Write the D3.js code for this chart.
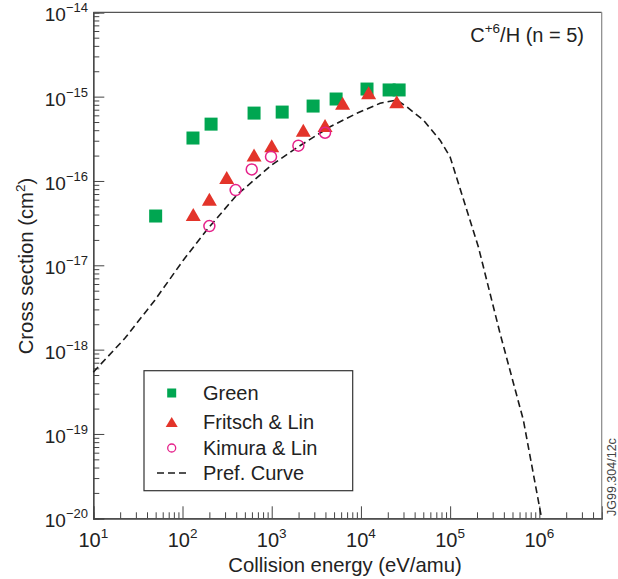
<!DOCTYPE html>
<html><head><meta charset="utf-8">
<script src="https://cdn.jsdelivr.net/npm/d3@7"></script>
<style>
html,body{margin:0;padding:0;background:#fff;}
svg{display:block;font-family:"Liberation Sans",Arial,Helvetica,sans-serif;}
</style></head>
<body><svg id="c" width="618" height="579"></svg>
<script>
// ---- data ----
const greenE = [50, 131, 209, 634, 1310, 2910, 5270, 11700, 20700, 26800];
const greenS = [3.84e-17, 3.23e-16, 4.72e-16, 6.38e-16, 6.56e-16, 7.73e-16, 9.37e-16, 1.23e-15, 1.2e-15, 1.2e-15];
const fritschE = [132, 200, 313, 634, 1000, 2260, 3960, 6230, 12200, 25200];
const fritschS = [4.0e-17, 6.05e-17, 1.1e-16, 2.03e-16, 2.62e-16, 4.0e-16, 4.54e-16, 8.34e-16, 1.11e-15, 8.7e-16];
const kimuraE = [200, 394, 597, 982, 1990, 3960];
const kimuraS = [2.92e-17, 7.8e-17, 1.37e-16, 1.94e-16, 2.62e-16, 3.73e-16];
const prefE = [10, 22.7, 49, 102, 187, 405, 1000, 1990, 4510, 8980, 16400, 25200, 32600, 50100, 77100, 1e5, 2.07e5, 3.62e5, 6.62e5, 1.06e6];
const prefS = [5.4e-19, 1.37e-18, 3.86e-18, 1.15e-17, 2.62e-17, 6.8e-17, 1.55e-16, 2.55e-16, 4.4e-16, 6.34e-16, 8.34e-16, 9.12e-16, 7.59e-16, 5.27e-16, 3.05e-16, 1.92e-16, 1.66e-17, 1.57e-18, 1.46e-19, 1.0e-20];
const xMajorExp = [1, 2, 3, 4, 5, 6];
const yMajorExp = [-20, -19, -18, -17, -16, -15, -14];
const legendLabels = ["Green", "Fritsch & Lin", "Kimura & Lin", "Pref. Curve"];
const titleMain = "C", titleSup = "+6", titleRest = "/H (n = 5)";
const xTitle = "Collision energy (eV/amu)";
const yTitle = "Cross section (cm", yTitleSup = "2", yTitleEnd = ")";
const tag = "JG99.304/12c";

// ---- layout ----
const L = 93.3, R = 601.7, T = 12.3, B = 518.3;
const GREEN = "#00a651", RED = "#e3342a", MAG = "#e5218a";
const svg = d3.select("#c");
const x = d3.scaleLog().domain([10, 5e6]).range([L, R]);
const y = d3.scaleLog().domain([1e-20, 1e-14]).range([B, T]);

// minor ticks
const xMinor = [];
for (let e = 1; e <= 6; e++) for (let m = 2; m <= 9; m++) { const v = m * Math.pow(10, e); if (v <= 5e6) xMinor.push(v); }
const yMinor = [];
for (let e = -20; e < -14; e++) for (let m = 2; m <= 9; m++) yMinor.push(m * Math.pow(10, e));

const axisColor = "#444";
const gx = svg.append("g").attr("transform", `translate(0,${B})`);
gx.call(d3.axisBottom(x).tickValues(xMinor).tickSize(-6).tickFormat(""));
gx.append("g").call(d3.axisBottom(x).tickValues(xMajorExp.map(e => Math.pow(10, e))).tickSize(-12).tickFormat(""));
gx.selectAll("path").attr("stroke", axisColor).attr("stroke-width", 1.2);
gx.selectAll("line").attr("stroke", axisColor).attr("stroke-width", 1);

const gy = svg.append("g").attr("transform", `translate(${L},0)`);
gy.call(d3.axisLeft(y).tickValues(yMinor).tickSize(-6).tickFormat(""));
gy.append("g").call(d3.axisLeft(y).tickValues(yMajorExp.map(e => Math.pow(10, e))).tickSize(-11).tickFormat(""));
gy.selectAll("path").attr("stroke", axisColor).attr("stroke-width", 1.2);
gy.selectAll("line").attr("stroke", axisColor).attr("stroke-width", 1);

// frame top & right
svg.append("line").attr("x1", L).attr("x2", R).attr("y1", T).attr("y2", T).attr("stroke", "#555").attr("stroke-width", 1.2);
svg.append("line").attr("x1", R).attr("x2", R).attr("y1", T).attr("y2", B).attr("stroke", "#888").attr("stroke-width", 1.2);

// tick labels
xMajorExp.forEach(e => {
  const t = svg.append("text").attr("x", x(Math.pow(10, e))).attr("y", 547).attr("text-anchor", "middle")
    .attr("font-size", 20).attr("fill", "#222");
  t.append("tspan").text("10");
  t.append("tspan").attr("dy", -9).attr("font-size", 13.5).text(String(e));
});
yMajorExp.forEach(e => {
  const t = svg.append("text").attr("x", 88).attr("y", y(Math.pow(10, e)) + 9).attr("text-anchor", "end")
    .attr("font-size", 19).attr("fill", "#222");
  t.append("tspan").text("10");
  t.append("tspan").attr("dy", -9).attr("font-size", 13).text("\u2212" + Math.abs(e));
});

// axis titles
svg.append("text").attr("x", 345).attr("y", 572).attr("text-anchor", "middle").attr("font-size", 20.3).attr("fill", "#222").text(xTitle);
const yt = svg.append("text").attr("transform", "translate(33,266) rotate(-90)").attr("text-anchor", "middle").attr("font-size", 20.3).attr("fill", "#222");
yt.append("tspan").text(yTitle);
yt.append("tspan").attr("dy", -8).attr("font-size", 13.5).text(yTitleSup);
yt.append("tspan").attr("dy", 8).text(yTitleEnd);

// title
const tt = svg.append("text").attr("x", 584).attr("y", 42).attr("text-anchor", "end").attr("font-size", 20).attr("fill", "#222");
tt.append("tspan").text(titleMain);
tt.append("tspan").attr("dy", -9).attr("font-size", 13.5).text(titleSup);
tt.append("tspan").attr("dy", 9).text(titleRest);

// tag
svg.append("text").attr("transform", "translate(616,516) rotate(-90)").attr("font-size", 12.5).attr("fill", "#444").text(tag);

// pref curve
const pref = prefE.map((e, i) => [e, prefS[i]]);
svg.append("path").datum(pref)
  .attr("d", d3.line().x(d => x(d[0])).y(d => y(d[1])))
  .attr("fill", "none").attr("stroke", "#1a1a1a").attr("stroke-width", 1.6).attr("stroke-dasharray", "7,4");

// markers
const tri = (w, h) => `M0,${-h / 2}L${w / 2},${h / 2}L${-w / 2},${h / 2}Z`;
svg.append("g").selectAll("rect").data(greenE.map((e, i) => [e, greenS[i]])).join("rect")
  .attr("x", d => x(d[0]) - 6.5).attr("y", d => y(d[1]) - 6.5).attr("width", 13).attr("height", 13).attr("fill", GREEN);
svg.append("g").selectAll("path").data(fritschE.map((e, i) => [e, fritschS[i]])).join("path")
  .attr("transform", d => `translate(${x(d[0])},${y(d[1])})`).attr("d", tri(15, 13)).attr("fill", RED);
svg.append("g").selectAll("circle").data(kimuraE.map((e, i) => [e, kimuraS[i]])).join("circle")
  .attr("cx", d => x(d[0])).attr("cy", d => y(d[1])).attr("r", 5.5).attr("fill", "none").attr("stroke", MAG).attr("stroke-width", 1.5);

// legend
const lg = svg.append("g");
lg.append("rect").attr("x", 144).attr("y", 370.7).attr("width", 208.7).attr("height", 120).attr("fill", "#fff").attr("stroke", "#333").attr("stroke-width", 1.2);
const ly = [393, 422, 448, 473];
const mx = 171.7;
lg.append("rect").attr("x", mx - 4.5).attr("y", ly[0] - 4.5).attr("width", 9).attr("height", 9).attr("fill", GREEN);
lg.append("path").attr("transform", `translate(${mx},${ly[1]})`).attr("d", tri(12, 10)).attr("fill", RED);
lg.append("circle").attr("cx", mx).attr("cy", ly[2]).attr("r", 4).attr("fill", "none").attr("stroke", MAG).attr("stroke-width", 1.3);
lg.append("line").attr("x1", 157).attr("x2", 187).attr("y1", ly[3]).attr("y2", ly[3]).attr("stroke", "#1a1a1a").attr("stroke-width", 1.4).attr("stroke-dasharray", "7,4");
legendLabels.forEach((s, i) => lg.append("text").attr("x", 203).attr("y", ly[i] + 7).attr("font-size", 20).attr("fill", "#222").text(s));
</script></body></html>
